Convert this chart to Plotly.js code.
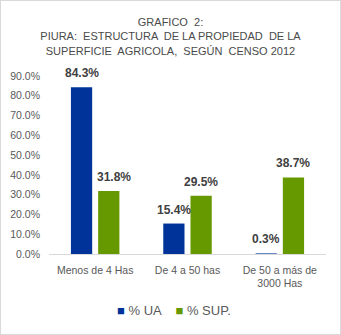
<!DOCTYPE html>
<html><head><meta charset="utf-8">
<script src="https://cdn.plot.ly/plotly-3.0.1.min.js"></script>
<style>html,body{margin:0;padding:0;background:#fff}#c{width:341px;height:335px;box-sizing:border-box;border:1px solid #d9d9d9}</style>
</head><body><div id="c"></div>
<script>
const categories = ["Menos de 4 Has", "De 4 a 50 has", "De 50 a más de<br>3000 Has"];
const ua = [84.3, 15.4, 0.3];
const sup = [31.8, 29.5, 38.7];
const seriesNames = ["% UA", "% SUP."];
const colors = ["#003399", "#669900"];
const fmt = v => v.toFixed(1) + "%";
const F = "Liberation Sans, Arial";
const BARGAP = 0.41;
const series = [ua, sup];
const mk = (vals, i) => ({
  type: "bar", x: categories, y: vals, name: seriesNames[i],
  marker: {color: colors[i]}, hoverinfo: "none", showlegend: false
});
const labels = [];
series.forEach((vals, i) => vals.forEach((v, j) => {
  const other = series[1 - i][j];
  labels.push({
    x: j + (i - 0.5) * (1 - BARGAP) / 2, y: v, xref: "x", yref: "y",
    text: fmt(v), showarrow: false, yanchor: "middle", yshift: 14,
    xshift: (i === 1 && other > v + 5) ? 5 : 0,
    font: {family: F, size: 12, color: "#404040", weight: "bold"}
  });
}));
const legendText = seriesNames.map((n, i) => "<span style='color:" + colors[i] + "'>■</span> " + n).join("    ");
labels.push({text: legendText, xref: "paper", yref: "paper", x: 0.45, y: -0.315, xanchor: "center", yanchor: "middle",
    showarrow: false, font: {family: F, size: 13, color: "#595959"}});
Plotly.newPlot("c", [mk(ua, 0), mk(sup, 1)], {
  width: 339, height: 333,
  margin: {l: 48, r: 14, t: 75, b: 80},
  paper_bgcolor: "#fff", plot_bgcolor: "#fff",
  title: {text: "GRAFICO  2:<br>PIURA:  ESTRUCTURA  DE LA PROPIEDAD  DE LA<br>SUPERFICIE  AGRICOLA,  SEGÚN  CENSO 2012",
    font: {family: F, size: 11, color: "#4a4a4a"}, x: 0.5, xanchor: "center", y: 0.925, yanchor: "top"},
  barmode: "group", bargap: BARGAP, bargroupgap: 0.22,
  xaxis: {showline: true, linecolor: "#d9d9d9", linewidth: 1, ticks: "", ticklabelstandoff: 6,
    tickfont: {family: F, size: 10.5, color: "#595959"}},
  yaxis: {range: [0, 90], dtick: 10, showgrid: false, zeroline: false, ticksuffix: "%", tickformat: ".1f",
    ticklabelstandoff: 8, tickfont: {family: F, size: 10.5, color: "#595959"}},
  showlegend: false,
  annotations: labels,
  font: {family: F}
}, {displayModeBar: false, staticPlot: true});
</script></body></html>
